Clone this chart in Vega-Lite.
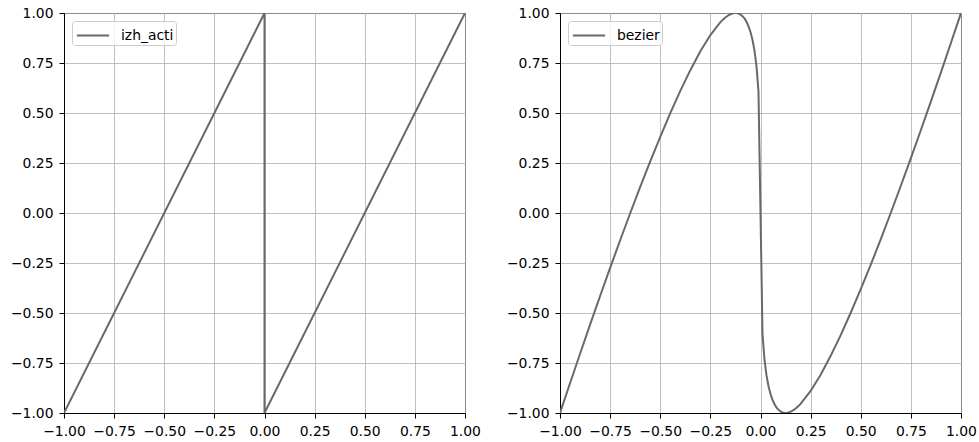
{
  "$schema": "https://vega.github.io/schema/vega-lite/v6.json",
  "background": "white",
  "padding": {"left": 9, "top": 5, "right": 5, "bottom": 5},
  "datasets": {
    "izh": [
      {"series": "izh_acti", "order": 1, "x": -1, "y": -1},
      {"series": "izh_acti", "order": 2, "x": 0, "y": 1},
      {"series": "izh_acti", "order": 3, "x": 0, "y": -1},
      {"series": "izh_acti", "order": 4, "x": 1, "y": 1}
    ],
    "bez": [
      {"series": "bezier", "x": -1, "y": -1},
      {"series": "bezier", "x": -0.95, "y": -0.851},
      {"series": "bezier", "x": -0.9, "y": -0.7035},
      {"series": "bezier", "x": -0.85, "y": -0.5582},
      {"series": "bezier", "x": -0.8, "y": -0.415},
      {"series": "bezier", "x": -0.75, "y": -0.2743},
      {"series": "bezier", "x": -0.7, "y": -0.1363},
      {"series": "bezier", "x": -0.65, "y": -0.0013},
      {"series": "bezier", "x": -0.6, "y": 0.1303},
      {"series": "bezier", "x": -0.55, "y": 0.258},
      {"series": "bezier", "x": -0.5, "y": 0.3811},
      {"series": "bezier", "x": -0.45, "y": 0.4989},
      {"series": "bezier", "x": -0.4, "y": 0.6104},
      {"series": "bezier", "x": -0.35, "y": 0.7142},
      {"series": "bezier", "x": -0.3, "y": 0.8083},
      {"series": "bezier", "x": -0.25, "y": 0.8899},
      {"series": "bezier", "x": -0.2, "y": 0.9544},
      {"series": "bezier", "x": -0.18, "y": 0.9739},
      {"series": "bezier", "x": -0.16, "y": 0.9886},
      {"series": "bezier", "x": -0.14, "y": 0.9978},
      {"series": "bezier", "x": -0.13, "y": 0.9997},
      {"series": "bezier", "x": -0.12, "y": 0.9997},
      {"series": "bezier", "x": -0.11, "y": 0.9974},
      {"series": "bezier", "x": -0.1, "y": 0.9925},
      {"series": "bezier", "x": -0.09, "y": 0.9844},
      {"series": "bezier", "x": -0.08, "y": 0.9727},
      {"series": "bezier", "x": -0.07, "y": 0.9564},
      {"series": "bezier", "x": -0.06, "y": 0.9345},
      {"series": "bezier", "x": -0.05, "y": 0.9052},
      {"series": "bezier", "x": -0.04, "y": 0.866},
      {"series": "bezier", "x": -0.03, "y": 0.8122},
      {"series": "bezier", "x": -0.02, "y": 0.7343},
      {"series": "bezier", "x": -0.01, "y": 0.6063},
      {"series": "bezier", "x": 0, "y": 0},
      {"series": "bezier", "x": 0.01, "y": -0.6063},
      {"series": "bezier", "x": 0.02, "y": -0.7343},
      {"series": "bezier", "x": 0.03, "y": -0.8122},
      {"series": "bezier", "x": 0.04, "y": -0.866},
      {"series": "bezier", "x": 0.05, "y": -0.9052},
      {"series": "bezier", "x": 0.06, "y": -0.9345},
      {"series": "bezier", "x": 0.07, "y": -0.9564},
      {"series": "bezier", "x": 0.08, "y": -0.9727},
      {"series": "bezier", "x": 0.09, "y": -0.9844},
      {"series": "bezier", "x": 0.1, "y": -0.9925},
      {"series": "bezier", "x": 0.11, "y": -0.9974},
      {"series": "bezier", "x": 0.12, "y": -0.9997},
      {"series": "bezier", "x": 0.13, "y": -0.9997},
      {"series": "bezier", "x": 0.14, "y": -0.9978},
      {"series": "bezier", "x": 0.16, "y": -0.9886},
      {"series": "bezier", "x": 0.18, "y": -0.9739},
      {"series": "bezier", "x": 0.2, "y": -0.9544},
      {"series": "bezier", "x": 0.25, "y": -0.8899},
      {"series": "bezier", "x": 0.3, "y": -0.8083},
      {"series": "bezier", "x": 0.35, "y": -0.7142},
      {"series": "bezier", "x": 0.4, "y": -0.6104},
      {"series": "bezier", "x": 0.45, "y": -0.4989},
      {"series": "bezier", "x": 0.5, "y": -0.3811},
      {"series": "bezier", "x": 0.55, "y": -0.258},
      {"series": "bezier", "x": 0.6, "y": -0.1303},
      {"series": "bezier", "x": 0.65, "y": 0.0013},
      {"series": "bezier", "x": 0.7, "y": 0.1363},
      {"series": "bezier", "x": 0.75, "y": 0.2743},
      {"series": "bezier", "x": 0.8, "y": 0.415},
      {"series": "bezier", "x": 0.85, "y": 0.5582},
      {"series": "bezier", "x": 0.9, "y": 0.7035},
      {"series": "bezier", "x": 0.95, "y": 0.851},
      {"series": "bezier", "x": 1, "y": 1}
    ]
  },
  "config": {
    "font": "DejaVu Sans",
    "view": {"stroke": "black", "strokeWidth": 1},
    "axis": {
      "domainColor": "black",
      "domainWidth": 1,
      "tickColor": "black",
      "tickSize": 5,
      "tickWidth": 1,
      "labelFont": "DejaVu Sans",
      "labelFontSize": 13.9,
      "labelColor": "black",
      "gridColor": "#b0b0b0",
      "gridWidth": 0.8,
      "gridOpacity": 1,
      "labelFlush": false,
      "labelOverlap": false
    },
    "axisX": {"labelPadding": 6},
    "axisY": {"labelPadding": 6},
    "legend": {
      "orient": "top-left",
      "offset": 8,
      "padding": 2,
      "symbolType": "M-1.4,0H1.4",
      "symbolSize": 529,
      "symbolStrokeWidth": 2,
      "symbolStrokeColor": "#696969",
      "symbolOffset": 6.5,
      "labelFont": "DejaVu Sans",
      "labelFontSize": 13.9,
      "labelColor": "black",
      "labelOffset": 15.5,
      "strokeColor": "#cccccc",
      "fillColor": "rgba(255,255,255,0.8)",
      "cornerRadius": 3
    }
  },
  "bounds": "flush",
  "spacing": 95,
  "resolve": {"scale": {"color": "independent"}, "legend": {"color": "independent"}},
  "hconcat": [
    {
      "width": 401,
      "height": 400,
      "data": {"name": "izh"},
      "mark": {"type": "line", "color": "#696969", "strokeWidth": 2, "clip": true},
      "encoding": {
        "x": {"field": "x", "type": "quantitative", "scale": {"domain": [-1, 1], "nice": false, "zero": false},
              "axis": {"title": null, "format": ".2f", "values": [-1, -0.75, -0.5, -0.25, 0, 0.25, 0.5, 0.75, 1]}},
        "y": {"field": "y", "type": "quantitative", "scale": {"domain": [-1, 1], "nice": false, "zero": false},
              "axis": {"title": null, "format": ".2f", "values": [-1, -0.75, -0.5, -0.25, 0, 0.25, 0.5, 0.75, 1]}},
        "order": {"field": "order", "type": "quantitative"},
        "color": {"field": "series", "type": "nominal", "scale": {"range": ["#696969"]},
                  "legend": {"title": null, "labelExpr": "datum.label + '  '"}}
      }
    },
    {
      "width": 401,
      "height": 400,
      "data": {"name": "bez"},
      "mark": {"type": "line", "color": "#696969", "strokeWidth": 2, "clip": true},
      "encoding": {
        "x": {"field": "x", "type": "quantitative", "scale": {"domain": [-1, 1], "nice": false, "zero": false},
              "axis": {"title": null, "format": ".2f", "values": [-1, -0.75, -0.5, -0.25, 0, 0.25, 0.5, 0.75, 1]}},
        "y": {"field": "y", "type": "quantitative", "scale": {"domain": [-1, 1], "nice": false, "zero": false},
              "axis": {"title": null, "format": ".2f", "values": [-1, -0.75, -0.5, -0.25, 0, 0.25, 0.5, 0.75, 1]}},
        "color": {"field": "series", "type": "nominal", "scale": {"range": ["#696969"]},
                  "legend": {"title": null, "labelExpr": "datum.label + '  '"}}
      }
    }
  ]
}
